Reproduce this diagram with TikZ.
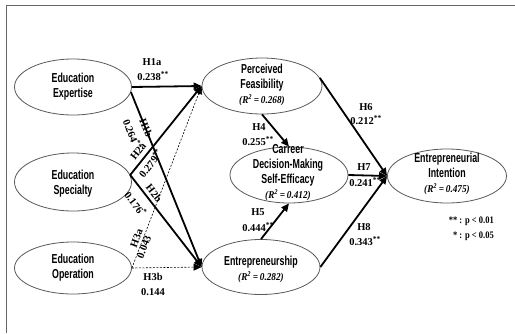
\documentclass[tikz,border=0pt]{standalone}
\usepackage{fontspec}
\setmainfont{Liberation Serif}
\newfontfamily\lblf[FakeStretch=0.68]{Liberation Sans}
\newfontfamily\rfont[FakeStretch=0.88]{Liberation Serif}
\newfontfamily\legf[FakeStretch=0.85]{Liberation Serif}
\usetikzlibrary{arrows.meta,shapes.geometric}
\newcommand{\dstar}{\textsuperscript{**}}
\newcommand{\onestar}{\textsuperscript{*}}
\newcommand{\rsq}[1]{{\rfont\bfseries\itshape\fontsize{10.5}{15}\selectfont (R\textsuperscript{2}\,=\,#1)}}
\begin{document}
\begin{tikzpicture}[x=1pt,y=-1pt,
  ell/.style={draw=black!65, line width=0.8pt, ellipse, minimum width=117pt, minimum height=56pt, inner sep=0pt},
  etext/.style={font=\lblf\bfseries\fontsize{13}{15}\selectfont, align=center, inner sep=0pt},
  num/.style={font=\bfseries\fontsize{10.5}{12}\selectfont, inner sep=0pt},
  arr/.style={line width=1.8pt, -{Triangle[length=8pt,width=7pt]}},
  darr/.style={line width=0.6pt, dash pattern=on 2pt off 1.5pt, -{Triangle[length=8pt,width=7pt]}},
]
\path[use as bounding box] (0,0) rectangle (515,333);
\draw[black!60, line width=1pt] (6,333) -- (6,5) -- (515,5);

% ellipses
\node[ell] (EE) at (73,87) {};
\node[etext] (EEt) at (73,87) {Education\\Expertise};
\node[ell, minimum height=58pt] (ES) at (73,182) {};
\node[etext] (ESt) at (73,184) {Education\\Specialty};
\node[ell, minimum height=52pt] (EO) at (73,268) {};
\node[etext] (EOt) at (73,268) {Education\\Operation};
\node[ell, minimum width=120pt] (PF) at (262,86) {};
\node[etext] (PFt) at (262,85) {Perceived\\Feasibility\\\rsq{0.268}};
\node[ell, minimum width=118pt] (CD) at (289,175) {};
\node[etext] (CDt) at (288,173) {Carreer\\Decision-Making\\Self-Efficacy\\\rsq{0.412}};
\node[ell, minimum width=118pt, minimum height=55pt] (EN) at (261,267) {};
\node[etext] (ENt) at (261,269) {Entrepreneurship\\\rsq{0.282}};
\node[ell, minimum width=119pt, minimum height=54pt] (EI) at (447,176) {};
\node[etext] (EIt) at (447,174) {Entrepreneurial\\Intention\\\rsq{0.475}};

% paths from education
\draw[arr] (EE.east) -- (PF.west);
\node[num] (l1a) at (152,62) {H1a};
\node[num] (v1a) at (153,76) {0.238\dstar};

\draw[arr] (EE.-5) -- node[num, sloped, pos=0.205, above=-4pt] (l1b) {H1b}
  node[num, sloped, pos=0.21, below=9pt] (v1b) {0.264\dstar} (EN.west);

\draw[arr] (ES.7) -- node[num, sloped, pos=0.205, above=4pt] (l2a) {H2a}
  node[num, sloped, pos=0.19, below=3pt] (v2a) {0.279\dstar} (PF.west);

\draw[arr] (ES.7) -- node[num, sloped, pos=0.25, above=3pt] (l2b) {H2b}
  node[num, sloped, pos=0.226, below=8pt] (v2b) {0.176\onestar} (EN.west);

\draw[darr] (EO.east) -- node[num, sloped, pos=0.152, above=2.5pt] (l3a) {H3a}
  node[num, sloped, pos=0.123, below=0pt] (v3a) {0.043} (PF.west);

\draw[darr] (EO.east) -- (EN.west);
\node[num] (l3b) at (153,277) {H3b};
\node[num] (v3b) at (153,292) {0.144};

% middle paths
\draw[arr] (PF.south) -- (CD.north);
\node[num] (l4) at (259,127) {H4};
\node[num] (v4) at (258,141) {0.255\dstar};

\draw[arr] (EN.north) -- (CD.south);
\node[num] (l5) at (258,212) {H5};
\node[num] (v5) at (258,227) {0.444\dstar};

% to intention
\draw[arr] (PF.8) -- (EI.west);
\node[num] (l6) at (366,107) {H6};
\node[num] (v6) at (366,120) {0.212\dstar};

\draw[arr] (CD.east) -- (EI.west);
\node[num] (l7) at (364,167) {H7};
\node[num] (v7) at (365,182) {0.241\dstar};

\draw[arr] (EN.east) -- (EI.west);
\node[num] (l8) at (364,227) {H8};
\node[num] (v8) at (365,241) {0.343\dstar};

% legend
\node[font=\legf\bfseries\fontsize{10}{12}\selectfont, inner sep=0pt, anchor=east] (lg1) at (494,221) {** : p < 0.01};
\node[font=\legf\bfseries\fontsize{10}{12}\selectfont, inner sep=0pt, anchor=east] (lg2) at (494,236) {* : p < 0.05};
\end{tikzpicture}
\end{document}
